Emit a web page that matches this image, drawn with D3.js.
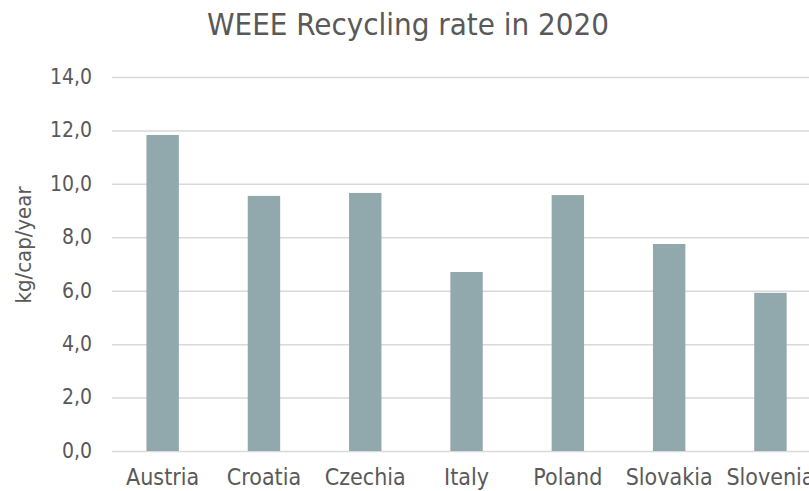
<!DOCTYPE html>
<html>
<head>
<meta charset="utf-8">
<script src="https://cdn.jsdelivr.net/npm/d3@7"></script>
<style>
  body { margin: 0; background: #fff; }
  text { font-family: "DejaVu Sans Condensed", "DejaVu Sans", sans-serif; fill: #595959; }
  .grid line { stroke: #d9d9d9; stroke-width: 1.5; }
</style>
</head>
<body>
<script>
const countries = ["Austria", "Croatia", "Czechia", "Italy", "Poland", "Slovakia", "Slovenia"];
const rates = [11.83, 9.55, 9.66, 6.70, 9.58, 7.75, 5.92];
const yTicks = [0, 2, 4, 6, 8, 10, 12, 14];

let WIDTH = 809,
    HEIGHT = 491;

let margin = { top: 77, bottom: 40, left: 112, right: 0 };

let svg = d3.select("body").append("svg")
  .attr("width", WIDTH)
  .attr("height", HEIGHT);

let x = d3.scaleBand()
  .domain(countries)
  .range([margin.left, margin.left + 7 * 101.3])
  .paddingInner(0.68)
  .paddingOuter(0.34);

let y = d3.scaleLinear()
  .domain([0, 14])
  .range([451, margin.top]);

let fmt = d => d3.format(".1f")(d).replace(".", ",");

// gridlines + y labels
let yAxis = svg.append("g")
  .attr("class", "grid")
  .attr("transform", "translate(" + margin.left + ",0)")
  .call(d3.axisLeft(y)
    .tickValues(yTicks)
    .tickFormat(fmt)
    .tickSize(-(WIDTH - margin.left))
    .tickPadding(20));

yAxis.select(".domain").remove();
yAxis.selectAll("text")
  .style("font-size", "21px")
  .attr("fill", "#595959")
  .attr("dy", "0.3em");

// bars
svg.selectAll(".bar")
  .data(rates)
  .enter().append("rect")
  .attr("class", "bar")
  .attr("x", (d, i) => x(countries[i]))
  .attr("width", x.bandwidth())
  .attr("y", d => y(d))
  .attr("height", d => y(0) - y(d))
  .style("fill", "#91a9ad");

// category labels
let xAxis = svg.append("g")
  .attr("transform", "translate(0," + y(0) + ")")
  .call(d3.axisBottom(x).tickSize(0).tickPadding(18));

xAxis.select(".domain").remove();
xAxis.selectAll("text")
  .style("font-size", "23px")
  .attr("fill", "#595959");

// title
svg.append("text")
  .attr("x", 408)
  .attr("y", 35)
  .attr("text-anchor", "middle")
  .style("font-size", "31px")
  .text("WEEE Recycling rate in 2020");

// y axis title
svg.append("text")
  .attr("transform", "translate(31,245) rotate(-90)")
  .attr("text-anchor", "middle")
  .style("font-size", "22px")
  .text("kg/cap/year");
</script>
</body>
</html>
